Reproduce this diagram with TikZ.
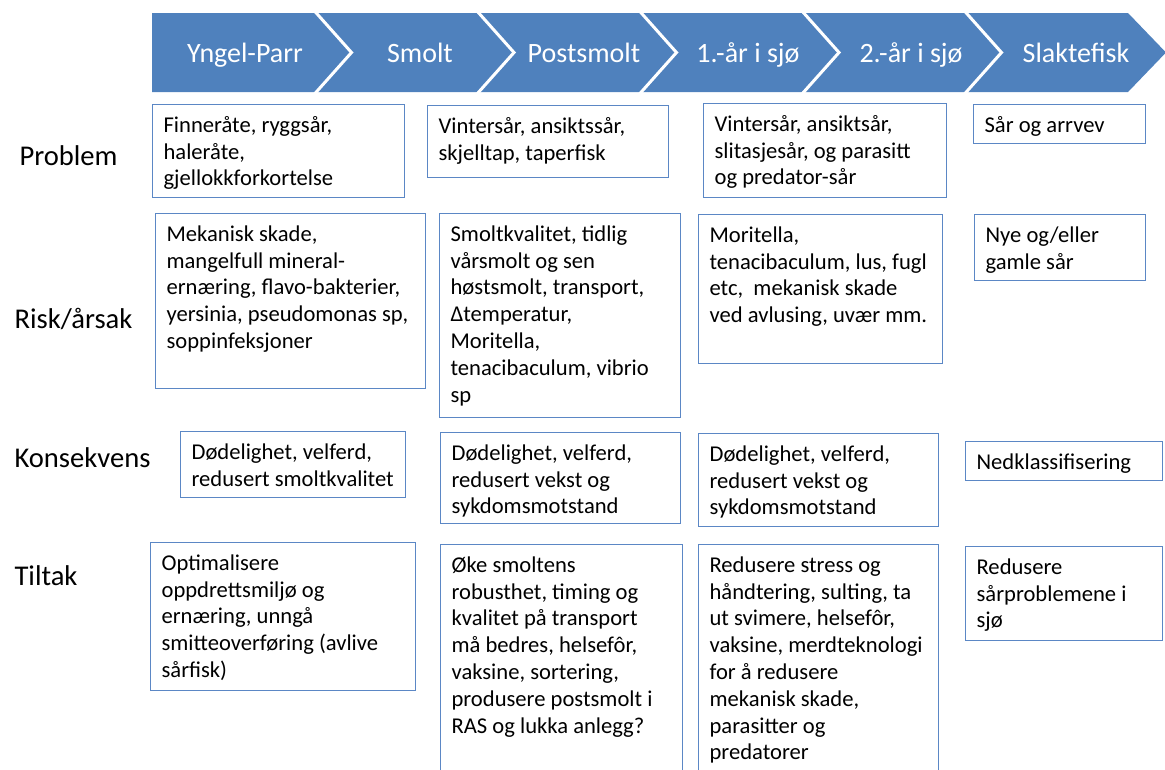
\documentclass[tikz,border=0pt]{standalone}
\usepackage{fontspec}
\setmainfont{Carlito}
\definecolor{banner}{HTML}{4F81BD}
\definecolor{boxline}{HTML}{5B87C5}
\newcommand\boxfont{\fontsize{22.6}{26.8}\selectfont}
\newcommand\bigfont{\fontsize{28}{32}\selectfont}
\newcommand\labelfont{\fontsize{28.6}{32}\selectfont}
% name, x, y, width, height, lines
\newcommand\infobox[6]{%
  \node[infobox] (#1) at (#2,#3)
    {\parbox[t][\dimexpr #5pt-18pt\relax][t]{\dimexpr #4pt-22pt\relax}{%
      \begin{tabular}[t]{@{}l@{}}#6\end{tabular}}};}
\begin{document}
\begin{tikzpicture}
			[x=1pt, y=-1pt,
			infobox/.style={draw=boxline, line width=1.2pt, fill=white, anchor=north west,
				inner xsep=11pt, inner ysep=9pt, font=\boxfont},
			stage/.style={text=white, font=\bigfont, anchor=base},
			rowlabel/.style={font=\labelfont, anchor=base west}]
			\useasboundingbox (0,0) rectangle (1165,769);
			% banner
			\fill[banner] (152,13) -- (1128,13) -- (1166,52.5) -- (1128,92) -- (152,92) -- cycle;
			\foreach \xa in {314.5, 477, 639.5, 802, 964.5}
				\draw[white, line width=3pt] (\xa,11) -- (\xa+37,52.5) -- (\xa,94);
			\node[stage] (yngel) at (245,62) {Yngel-Parr};
			\node[stage] (smolt) at (420,62) {Smolt};
			\node[stage] (post) at (584,62) {Postsmolt};
			\node[stage] (aar1) at (748,62) {1.-år i sjø};
			\node[stage] (aar2) at (911,62) {2.-år i sjø};
			\node[stage] (slakt) at (1076,62) {Slaktefisk};
			% row labels
			\node[rowlabel] (problem) at (16,165) {Problem};
			\node[rowlabel] (risk) at (11,328) {Risk/årsak};
			\node[rowlabel] (kons) at (11,467) {Konsekvens};
			\node[rowlabel] (tiltak) at (11,585) {Tiltak};
			% problem
			\infobox{p1}{152}{104}{252}{93}{Finneråte, ryggsår,\\haleråte,\\gjellokkforkortelse}
			\infobox{p2}{427}{105}{241}{72}{Vintersår, ansiktssår,\\skjelltap, taperfisk}
			\infobox{p3}{703}{103}{243}{94}{Vintersår, ansiktsår,\\slitasjesår, og parasitt\\og predator-sår}
			\infobox{p4}{973}{104}{172}{39}{Sår og arrvev}
			% risk
			\infobox{r1}{155}{213}{270}{175}{Mekanisk skade,\\mangelfull mineral-\\ernæring, flavo-bakterier,\\yersinia, pseudomonas sp,\\soppinfeksjoner}
			\infobox{r2}{439}{213}{241}{204}{Smoltkvalitet, tidlig\\vårsmolt og sen\\høstsmolt, transport,\\Δtemperatur,\\Moritella,\\tenacibaculum, vibrio\\sp}
			\infobox{r3}{698}{214}{244}{149}{Moritella,\\tenacibaculum, lus, fugl\\etc,\ \ mekanisk skade\\ved avlusing, uvær mm.}
			\infobox{r4}{974}{214}{171}{66}{Nye og/eller\\gamle sår}
			% konsekvens
			\infobox{k1}{180}{431}{225}{66}{Dødelighet, velferd,\\redusert smoltkvalitet}
			\infobox{k2}{440}{432}{240}{91}{Dødelighet, velferd,\\redusert vekst og\\sykdomsmotstand}
			\infobox{k3}{698}{433}{240}{93}{Dødelighet, velferd,\\redusert vekst og\\sykdomsmotstand}
			\infobox{k4}{965}{441}{197}{39}{Nedklassifisering}
			% tiltak
			\infobox{t1}{150}{542}{265}{148}{Optimalisere\\oppdrettsmiljø og\\ernæring, unngå\\smitteoverføring (avlive\\sårfisk)}
			\infobox{t2}{440}{544}{242}{245}{Øke smoltens\\robusthet, timing og\\kvalitet på transport\\må bedres, helsefôr,\\vaksine, sortering,\\produsere postsmolt i\\RAS og lukka anlegg?}
			\infobox{t3}{698}{544}{240}{245}{Redusere stress og\\håndtering, sulting, ta\\ut svimere, helsefôr,\\vaksine, merdteknologi\\for å redusere\\mekanisk skade,\\parasitter og\\predatorer}
			\infobox{t4}{965}{546}{197}{94}{Redusere\\sårproblemene i\\sjø}
			\end{tikzpicture}
\end{document}
